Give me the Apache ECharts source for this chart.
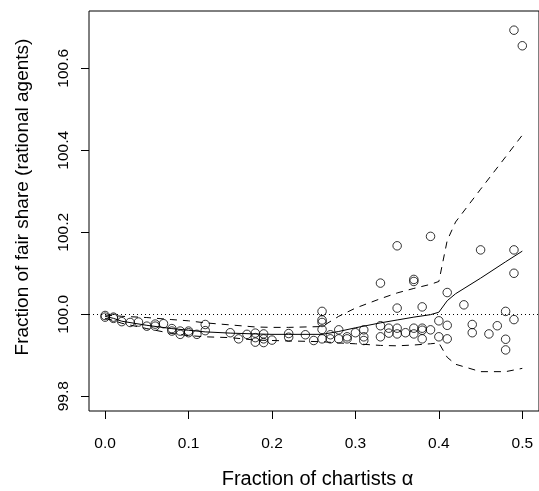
<!DOCTYPE html>
<html>
<head>
<meta charset="utf-8">
<script src="https://cdn.jsdelivr.net/npm/echarts@6/dist/echarts.min.js"></script>
<style>
html,body{margin:0;padding:0;background:#fff;}
#chart{width:539px;height:491px;}
</style>
</head>
<body>
<div id="chart"></div>
<script>
const xTicks = [0, 0.1, 0.2, 0.3, 0.4, 0.5];
const yTicks = [99.8, 100.0, 100.2, 100.4, 100.6];

const ptsX = [0,0, 0.01,0.01, 0.02, 0.03, 0.04, 0.05, 0.06,0.06, 0.07, 0.08,0.08, 0.09,0.09, 0.10,0.10, 0.11, 0.12,0.12,
  0.15, 0.16, 0.17, 0.18,0.18,0.18, 0.19,0.19,0.19, 0.20, 0.22,0.22, 0.24, 0.25,
  0.26,0.26,0.26,0.26,0.26, 0.27,0.27, 0.28,0.28, 0.29,0.29, 0.30, 0.31,0.31,0.31,
  0.33,0.33,0.33, 0.34,0.34, 0.35,0.35,0.35,0.35, 0.36, 0.37,0.37,0.37,0.37,
  0.38,0.38,0.38,0.38, 0.39,0.39, 0.40,0.40, 0.41,0.41,0.41, 0.43, 0.44,0.44, 0.45, 0.46, 0.47,
  0.48,0.48,0.48, 0.49,0.49,0.49,0.49, 0.50];
const ptsY = [99.997,99.993, 99.993,99.990, 99.982, 99.980, 99.981, 99.971, 99.976,99.971, 99.977, 99.965,99.959, 99.959,99.951, 99.959,99.955, 99.951, 99.975,99.960,
  99.955, 99.940, 99.951, 99.954,99.943,99.932, 99.952,99.940,99.931, 99.937, 99.953,99.944, 99.950, 99.936,
  100.007,99.986,99.980,99.963,99.940, 99.950,99.940, 99.962,99.940, 99.945,99.940, 99.955, 99.962,99.945,99.936,
  100.076,99.972,99.945, 99.966,99.954, 100.167,100.015,99.966,99.952, 99.955, 100.085,100.080,99.966,99.952,
  100.018,99.966,99.961,99.940, 100.190,99.962, 99.984,99.945, 100.053,99.973,99.940, 100.023, 99.975,99.955, 100.157, 99.952, 99.972,
  100.007,99.939,99.913, 100.693,100.157,100.100,99.987, 100.655];

const lineX  = [0, 0.01, 0.02, 0.05, 0.08, 0.10, 0.12, 0.15, 0.18, 0.20, 0.22, 0.26, 0.28, 0.30, 0.33, 0.35, 0.37, 0.39, 0.40, 0.41, 0.42, 0.45, 0.48, 0.50];
const meanY  = [99.995, 99.990, 99.983, 99.973, 99.965, 99.961, 99.957, 99.954, 99.952, 99.951, 99.951, 99.951, 99.958, 99.967, 99.979, 99.986, 99.993, 99.999, 100.005, 100.033, 100.050, 100.088, 100.128, 100.154];
const upperY = [99.998, 99.997, 99.995, 99.992, 99.987, 99.984, 99.979, 99.974, 99.969, 99.968, 99.968, 99.970, 99.995, 100.015, 100.038, 100.052, 100.063, 100.073, 100.080, 100.180, 100.225, 100.305, 100.384, 100.437];
const lowerY = [99.990, 99.985, 99.978, 99.965, 99.953, 99.948, 99.945, 99.943, 99.937, 99.936, 99.935, 99.933, 99.930, 99.928, 99.924, 99.923, 99.925, 99.928, 99.930, 99.895, 99.878, 99.860, 99.860, 99.868];

const FONT = '"Liberation Sans", Arial, Helvetica, sans-serif';
const pair = (xs, ys) => xs.map((x, i) => [x, ys[i]]);

const chart = echarts.init(document.getElementById('chart'), null, {renderer: 'canvas'});
chart.setOption({
  animation: false,
  backgroundColor: '#fff',
  grid: {left: 89, top: 11, width: 456.6, height: 400, show: true, borderColor: '#000', borderWidth: 1, backgroundColor: 'transparent'},
  xAxis: {
    type: 'value', min: -0.0193, max: 0.52,
    axisLine: {show: false, onZero: false},
    splitLine: {show: false},
    axisTick: {show: true, inside: false, length: 8, customValues: xTicks, lineStyle: {color: '#000', width: 1}},
    axisLabel: {customValues: xTicks, formatter: v => v.toFixed(1), margin: 25, color: '#000', fontSize: 15.5, fontFamily: FONT}
  },
  yAxis: {
    type: 'value', min: 99.764, max: 100.7398,
    axisLine: {show: false, onZero: false},
    splitLine: {show: false},
    axisTick: {show: true, inside: false, length: 8, customValues: yTicks, lineStyle: {color: '#000', width: 1}},
    axisLabel: {customValues: yTicks, formatter: v => v.toFixed(1), rotate: 90, margin: 17, color: '#000', fontSize: 15.5, fontFamily: FONT}
  },
  graphic: [
    {type: 'text', x: 317.5, y: 479, style: {text: 'Fraction of chartists α', font: '20px ' + FONT, fill: '#000', align: 'center', verticalAlign: 'middle'}},
    {type: 'text', x: 23, y: 197, rotation: Math.PI / 2, style: {text: 'Fraction of fair share (rational agents)', font: '19px ' + FONT, fill: '#000', align: 'center', verticalAlign: 'middle'}}
  ],
  series: [
    {type: 'line', data: pair(lineX, meanY), showSymbol: false, symbol: 'none', lineStyle: {color: '#000', width: 1}, z: 3,
     markLine: {silent: true, symbol: 'none', label: {show: false}, lineStyle: {color: '#000', width: 1, type: [1, 3]}, data: [{yAxis: 100}]}},
    {type: 'line', data: pair(lineX, upperY), showSymbol: false, symbol: 'none', lineStyle: {color: '#000', width: 1, type: [7, 6]}, z: 3},
    {type: 'line', data: pair(lineX, lowerY), showSymbol: false, symbol: 'none', lineStyle: {color: '#000', width: 1, type: [7, 6]}, z: 3},
    {type: 'scatter', data: pair(ptsX, ptsY), symbol: 'circle', symbolSize: 8.5, itemStyle: {color: 'rgba(0,0,0,0)', borderColor: '#000', borderWidth: 1}, z: 4}
  ]
});
</script>
</body>
</html>
